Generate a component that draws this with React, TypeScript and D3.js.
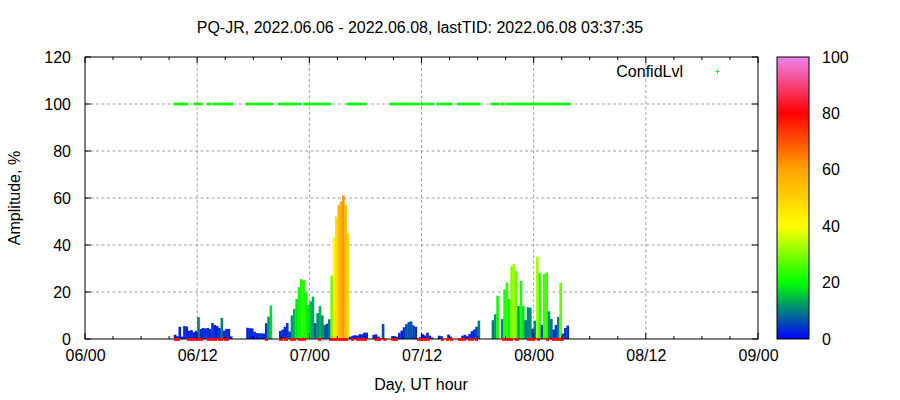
import { useEffect, useRef } from "react";
import * as d3 from "d3";

// hours since 06/00, one impulse every 15 min
const STEP = 0.25;

const segStarts = [9.5, 17.25, 20.75, 30.75, 32.75, 35.75, 37.75, 38.75, 40.25, 43.5];

const segAmps = [
  [1.8, 1.2, 5.2, 1.0, 5.5, 5.3, 3.5, 3.8, 2.9, 3.5, 9.3, 4.2, 4.7, 4.5, 4.7, 4.2, 6.8, 6.0, 5.5, 4.7, 9.0, 3.6, 4.3, 4.3, 1.1],
  [4.8, 4.6, 4.5, 3.1, 2.5, 2.4, 2.4, 2.3, 6.7, 9.5, 14.2],
  [3.4, 4.0, 5.2, 6.8, 3.2, 10, 12.8, 17, 22, 25.5, 25, 20, 14.5, 16, 18, 6.8, 11, 14, 10, 6, 6.5, 8.4, 27, 43, 52, 57, 58.5, 61, 57, 45, 1.0, 1.4, 1.6, 1.4, 2.0, 2.0, 2.7, 2.7],
  [1.8, 2.0, 1.0, 0, 6.4],
  [1.2, 1.2, 0.9, 2.6, 3.6, 5.0, 6.3, 7.2, 7.5, 5.8, 5.2],
  [0.9, 2.0, 1.5, 2.7, 1.4, 0.6],
  [1.4, 1.2],
  [1.9, 1.0],
  [1.4, 1.8, 1.2, 2.1, 3.3, 4.0, 5.2, 7.8],
  [8, 10.5, 18.4, 0, 8.5, 21, 24, 17, 31, 32, 29, 14, 24.7, 14, 8, 13.5, 13.3, 4.4, 7.8, 35, 28, 6, 27.7, 28.3, 11.8, 8.5, 4, 6, 9.4, 24, 2.3, 4.7, 5.7],
];

const segConfs = [
  [2, 2, 3, 2, 3, 3, 3, 3, 2, 3, 10, 3, 3, 3, 4, 3, 4, 3, 3, 3, 10, 3, 3, 3, 2],
  [3, 3, 3, 3, 3, 3, 3, 3, 4, 12, 17],
  [3, 3, 3, 4, 3, 12, 14, 18, 20, 22, 22, 21, 18, 14, 13, 7, 11, 14, 11, 8, 5, 9, 28, 40, 48, 55, 58, 62, 55, 50, 2, 2, 2, 2, 2, 3, 3, 3],
  [3, 3, 3, 0, 6],
  [3, 3, 3, 3, 3, 4, 6, 7, 7, 5, 4],
  [3, 1, 3, 3, 3, 3],
  [3, 3],
  [3, 3],
  [3, 3, 3, 3, 3, 3, 4, 10],
  [10, 12, 21, 0, 10, 22, 24, 20, 31, 32, 28, 12, 22, 18, 9, 11, 11, 4, 10, 33, 24, 6, 25, 25, 12, 9, 4, 5, 10, 28, 3, 4, 4],
];

// ConfidLvl marks drawn at 100 (start, end hour)
const confidSpans = [
  [9.63, 9.84], [10.06, 10.91], [11.77, 12.41], [13.16, 13.37], [13.8, 14.34], [14.66, 14.98],
  [15.19, 15.73], [17.33, 20.01], [20.76, 21.5], [21.72, 23.0], [23.54, 26.21], [28.14, 28.35],
  [28.57, 29.96], [32.74, 35.63], [36.05, 36.16], [36.48, 37.23], [37.77, 39.16], [39.91, 41.19],
  [41.41, 42.15], [43.54, 44.19], [44.61, 44.72], [45.15, 46.54], [46.75, 50.82], [51.14, 51.78],
];

// red marks on the zero line
const zeroSpans = [
  [9.63, 10.06], [11.02, 11.87], [11.98, 12.52], [13.16, 14.02], [14.34, 14.66], [14.98, 15.3],
  [19.36, 19.47], [20.86, 21.07], [21.4, 21.61], [22.04, 22.15], [22.36, 22.47], [22.89, 23.54],
  [25.03, 25.14], [26.21, 28.03], [28.57, 28.68], [29.1, 29.21], [29.42, 29.53], [29.74, 30.06],
  [31.07, 31.6], [32.03, 32.14], [32.85, 33.06], [33.27, 33.38], [35.63, 36.05], [36.16, 36.27],
  [36.48, 36.8], [38.19, 38.3], [38.73, 38.84], [39.16, 39.27], [40.01, 40.23], [40.44, 40.65],
  [41.08, 41.51], [41.83, 41.94], [44.72, 45.26], [45.47, 45.69], [46.11, 46.33], [47.39, 47.71],
  [47.93, 48.04], [48.46, 48.57], [49.43, 49.54], [50.07, 50.28], [50.5, 51.14],
];

const xTicks = [0, 12, 24, 36, 48, 60, 72];
const xTickLabels = ["06/00", "06/12", "07/00", "07/12", "08/00", "08/12", "09/00"];
const xMinorTicks = d3.range(0, 73, 3);
const yTicks = [0, 20, 40, 60, 80, 100, 120];
const cbTicks = [0, 20, 40, 60, 80, 100];
const paletteStops = [0, 20, 40, 60, 80, 100];
const paletteColors = ["#0000ff", "#00ff00", "#ffff00", "#ffa500", "#ff0000", "#ee82ee"];

const TITLE = "PQ-JR, 2022.06.06 - 2022.06.08, lastTID: 2022.06.08 03:37:35";
const FONT = "'Liberation Sans', Arial, sans-serif";

export default function App() {
  const svgRef = useRef<SVGSVGElement | null>(null);

  useEffect(() => {
    if (!svgRef.current) return;
    const width = 900;
    const height = 400;
    const m = { left: 85, right: 758, top: 57, bottom: 339 };

    const svg = d3.select(svgRef.current);
    svg.selectAll("*").remove();

    const x = d3.scaleLinear().domain([0, 72]).range([m.left, m.right]);
    const y = d3.scaleLinear().domain([0, 120]).range([m.bottom, m.top]);
    const color = d3
      .scaleLinear<string>()
      .domain(paletteStops)
      .range(paletteColors)
      .interpolate(d3.interpolateRgb);

    svg.append("rect").attr("width", width).attr("height", height).attr("fill", "#fff");

    // grid
    const grid = svg.append("g").attr("stroke", "#a0a0a0").attr("stroke-dasharray", "3,2.5");
    xTicks.slice(1, -1).forEach((t) => {
      grid.append("line").attr("x1", x(t)).attr("x2", x(t)).attr("y1", m.top).attr("y2", m.bottom);
    });
    yTicks.slice(1, -1).forEach((t) => {
      grid.append("line").attr("x1", m.left).attr("x2", m.right).attr("y1", y(t)).attr("y2", y(t));
    });

    // impulses
    const bars: { t: number; a: number; c: number }[] = [];
    segStarts.forEach((t0, i) => {
      segAmps[i].forEach((a, j) => {
        if (a > 0) bars.push({ t: t0 + j * STEP, a, c: segConfs[i][j] });
      });
    });
    const bw = x(STEP) - x(0);
    svg
      .append("g")
      .selectAll("rect")
      .data(bars)
      .join("rect")
      .attr("x", (d) => x(d.t))
      .attr("width", bw + 0.3)
      .attr("y", (d) => y(d.a))
      .attr("height", (d) => y(0) - y(d.a))
      .attr("fill", (d) => color(d.c));

    // ConfidLvl points
    svg
      .append("g")
      .selectAll("rect")
      .data(confidSpans)
      .join("rect")
      .attr("x", (d) => x(d[0]) - 1.5)
      .attr("width", (d) => x(d[1]) - x(d[0]) + 3)
      .attr("y", y(100) - 1.3)
      .attr("height", 2.6)
      .attr("fill", "#00ff00");

    // border
    svg
      .append("rect")
      .attr("x", m.left)
      .attr("y", m.top)
      .attr("width", m.right - m.left)
      .attr("height", m.bottom - m.top)
      .attr("fill", "none")
      .attr("stroke", "#000");

    // zero line marks
    svg
      .append("g")
      .selectAll("rect")
      .data(zeroSpans)
      .join("rect")
      .attr("x", (d) => x(d[0]) - 1)
      .attr("width", (d) => x(d[1]) - x(d[0]) + 2)
      .attr("y", y(0) - 1)
      .attr("height", 2.8)
      .attr("fill", "#ff0000");

    // minor ticks top/bottom
    const minor = svg.append("g").attr("stroke", "#000");
    xMinorTicks.forEach((t) => {
      const len = t % 12 === 0 ? 6 : 3;
      minor.append("line").attr("x1", x(t)).attr("x2", x(t)).attr("y1", m.top).attr("y2", m.top + len);
      minor.append("line").attr("x1", x(t)).attr("x2", x(t)).attr("y1", m.bottom).attr("y2", m.bottom - len);
    });
    yTicks.forEach((t) => {
      minor.append("line").attr("x1", m.left).attr("x2", m.left + 6).attr("y1", y(t)).attr("y2", y(t));
      minor.append("line").attr("x1", m.right).attr("x2", m.right - 6).attr("y1", y(t)).attr("y2", y(t));
    });

    // axes (labels only)
    const xAxis = d3
      .axisBottom(x)
      .tickValues(xTicks)
      .tickSize(0)
      .tickPadding(11)
      .tickFormat((_, i) => xTickLabels[i]);
    const gx = svg.append("g").attr("transform", `translate(0,${m.bottom})`).call(xAxis);
    const yAxis = d3.axisLeft(y).tickValues(yTicks).tickSize(0).tickPadding(14);
    const gy = svg.append("g").attr("transform", `translate(${m.left},0)`).call(yAxis);
    [gx, gy].forEach((g) => {
      g.select(".domain").remove();
      g.selectAll("text").attr("font-size", 16).attr("font-family", FONT).attr("fill", "#000");
    });

    // colour box
    const cb = { x: 777, w: 32 };
    const grad = svg
      .append("defs")
      .append("linearGradient")
      .attr("id", "pal")
      .attr("x1", 0)
      .attr("y1", 1)
      .attr("x2", 0)
      .attr("y2", 0);
    paletteStops.forEach((s, i) => {
      grad.append("stop").attr("offset", `${s}%`).attr("stop-color", paletteColors[i]);
    });
    svg
      .append("rect")
      .attr("x", cb.x)
      .attr("y", m.top)
      .attr("width", cb.w)
      .attr("height", m.bottom - m.top)
      .attr("fill", "url(#pal)")
      .attr("stroke", "#000");
    const cbScale = d3.scaleLinear().domain([0, 100]).range([m.bottom, m.top]);
    const gc = svg
      .append("g")
      .attr("transform", `translate(${cb.x + cb.w},0)`)
      .call(d3.axisRight(cbScale).tickValues(cbTicks).tickSize(0).tickPadding(13));
    gc.select(".domain").remove();
    gc.selectAll("text").attr("font-size", 16).attr("font-family", FONT).attr("fill", "#000");

    // legend
    svg
      .append("text")
      .attr("x", 683)
      .attr("y", 77)
      .attr("text-anchor", "end")
      .attr("font-size", 16)
      .attr("font-family", FONT)
      .text("ConfidLvl");
    svg
      .append("path")
      .attr("d", "M715.5,71.5h4M717.5,69.5v4")
      .attr("stroke", "#00ff00")
      .attr("stroke-width", 1);

    // titles
    svg
      .append("text")
      .attr("x", 420)
      .attr("y", 33)
      .attr("text-anchor", "middle")
      .attr("font-size", 16)
      .attr("font-family", FONT)
      .text(TITLE);
    svg
      .append("text")
      .attr("x", 421)
      .attr("y", 390)
      .attr("text-anchor", "middle")
      .attr("font-size", 16)
      .attr("font-family", FONT)
      .text("Day, UT hour");
    svg
      .append("text")
      .attr("transform", `translate(20,${(m.top + m.bottom) / 2}) rotate(-90)`)
      .attr("text-anchor", "middle")
      .attr("font-size", 16)
      .attr("font-family", FONT)
      .text("Amplitude, %");
  }, []);

  return (
    <div style={{ position: "absolute", left: 0, top: 0 }}>
      <svg ref={svgRef} width={900} height={400} style={{ display: "block" }}></svg>
    </div>
  );
}
